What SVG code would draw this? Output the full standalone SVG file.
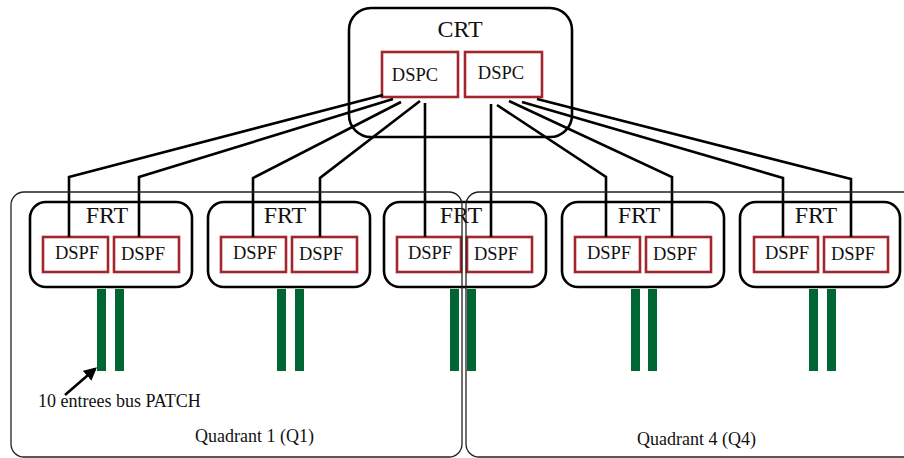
<svg xmlns="http://www.w3.org/2000/svg" width="904" height="458" viewBox="0 0 904 458">
<style>
  text { font-family: "Liberation Serif", "Times New Roman", serif; fill: #111; }
  .big { font-size: 24px; text-anchor: middle; }
  .dsp { font-size: 18.5px; text-anchor: middle; }
  .lbl { font-size: 18px; }
  .frt { fill: none; stroke: #000; stroke-width: 2.6; }
  .red { fill: #fff; stroke: #a3262d; stroke-width: 2.6; }
  .bus { fill: #006633; }
  .quad { fill: none; stroke: #222; stroke-width: 1.3; }
  .conn { fill: none; stroke: #000; stroke-width: 2.6; }
</style>
<defs>
  <marker id="ah" viewBox="0 0 10 10" refX="8" refY="5" markerWidth="5" markerHeight="5" orient="auto">
    <path d="M0,0 L10,5 L0,10 z" fill="#000"/>
  </marker>
</defs>
<rect width="904" height="458" fill="#fff"/>

<g id="CRT">
  <rect class="frt" x="349" y="8" width="223" height="129" rx="22"/>
  <text class="big" x="460" y="37">CRT</text>
</g>
<g id="DSPC1">
  <rect class="red" x="382" y="52" width="76" height="45"/>
  <text class="dsp" x="415" y="81">DSPC</text>
</g>
<g id="DSPC2">
  <rect class="red" x="465" y="52" width="77" height="45"/>
  <text class="dsp" x="501" y="79">DSPC</text>
</g>

<g id="FRT1">
  <rect class="frt" x="30" y="202" width="162" height="85" rx="16"/>
  <text class="big" x="107" y="223">FRT</text>
  <rect class="red" x="43" y="237" width="65" height="35"/>
  <text class="dsp" x="77" y="259">DSPF</text>
  <rect class="red" x="114" y="237" width="65" height="35"/>
  <text class="dsp" x="143" y="260">DSPF</text>
  <rect class="bus" x="97" y="289" width="9" height="82"/>
  <rect class="bus" x="115" y="289" width="9" height="82"/>
</g>
<g id="FRT2">
  <rect class="frt" x="208" y="202" width="162" height="85" rx="16"/>
  <text class="big" x="285" y="223">FRT</text>
  <rect class="red" x="221" y="237" width="65" height="35"/>
  <text class="dsp" x="255" y="259">DSPF</text>
  <rect class="red" x="292" y="237" width="65" height="35"/>
  <text class="dsp" x="321" y="260">DSPF</text>
  <rect class="bus" x="277" y="289" width="9" height="82"/>
  <rect class="bus" x="295" y="289" width="9" height="82"/>
</g>
<g id="FRT3">
  <rect class="frt" x="384" y="202" width="162" height="85" rx="16"/>
  <text class="big" x="461" y="223">FRT</text>
  <rect class="red" x="397" y="237" width="64" height="35"/>
  <text class="dsp" x="430" y="259">DSPF</text>
  <rect class="red" x="467" y="237" width="65" height="35"/>
  <text class="dsp" x="496" y="260">DSPF</text>
  <rect class="bus" x="450" y="289" width="9" height="82"/>
  <rect class="bus" x="467" y="289" width="9" height="82"/>
</g>
<g id="FRT4">
  <rect class="frt" x="562" y="202" width="162" height="85" rx="16"/>
  <text class="big" x="639" y="223">FRT</text>
  <rect class="red" x="575" y="237" width="65" height="35"/>
  <text class="dsp" x="609" y="259">DSPF</text>
  <rect class="red" x="646" y="237" width="65" height="35"/>
  <text class="dsp" x="675" y="260">DSPF</text>
  <rect class="bus" x="631" y="289" width="9" height="82"/>
  <rect class="bus" x="648" y="289" width="9" height="82"/>
</g>
<g id="FRT5">
  <rect class="frt" x="740" y="202" width="160" height="85" rx="16"/>
  <text class="big" x="816" y="223">FRT</text>
  <rect class="red" x="754" y="237" width="64" height="35"/>
  <text class="dsp" x="787" y="259">DSPF</text>
  <rect class="red" x="824" y="237" width="64" height="35"/>
  <text class="dsp" x="853" y="260">DSPF</text>
  <rect class="bus" x="809" y="289" width="9" height="82"/>
  <rect class="bus" x="827" y="289" width="9" height="82"/>
</g>

<g id="connectors">
  <polyline class="conn" points="383,95 69,177 69,237"/>
  <polyline class="conn" points="393,99 139,177 139,237"/>
  <polyline class="conn" points="401,102 253,178 253,237"/>
  <polyline class="conn" points="420,101 320,178 320,237"/>
  <polyline class="conn" points="425,103 425,237"/>
  <polyline class="conn" points="491,104 491,237"/>
  <polyline class="conn" points="497,105 606,177 606,237"/>
  <polyline class="conn" points="509,101 672,177 672,237"/>
  <polyline class="conn" points="522,102 783,178 783,237"/>
  <polyline class="conn" points="537,99 851,179 851,237"/>
  <line class="conn" x1="65" y1="395" x2="95" y2="369" marker-end="url(#ah)"/>
</g>

<g id="Q1">
  <rect class="quad" x="11" y="192" width="451" height="265" rx="13"/>
  <text class="lbl" x="195" y="442">Quadrant 1 (Q1)</text>
</g>
<g id="Q4">
  <rect class="quad" x="466" y="192" width="460" height="265" rx="13"/>
  <text class="lbl" x="637" y="445">Quadrant 4 (Q4)</text>
</g>
<text class="lbl" x="38" y="407">10 entrees bus PATCH</text>
</svg>
